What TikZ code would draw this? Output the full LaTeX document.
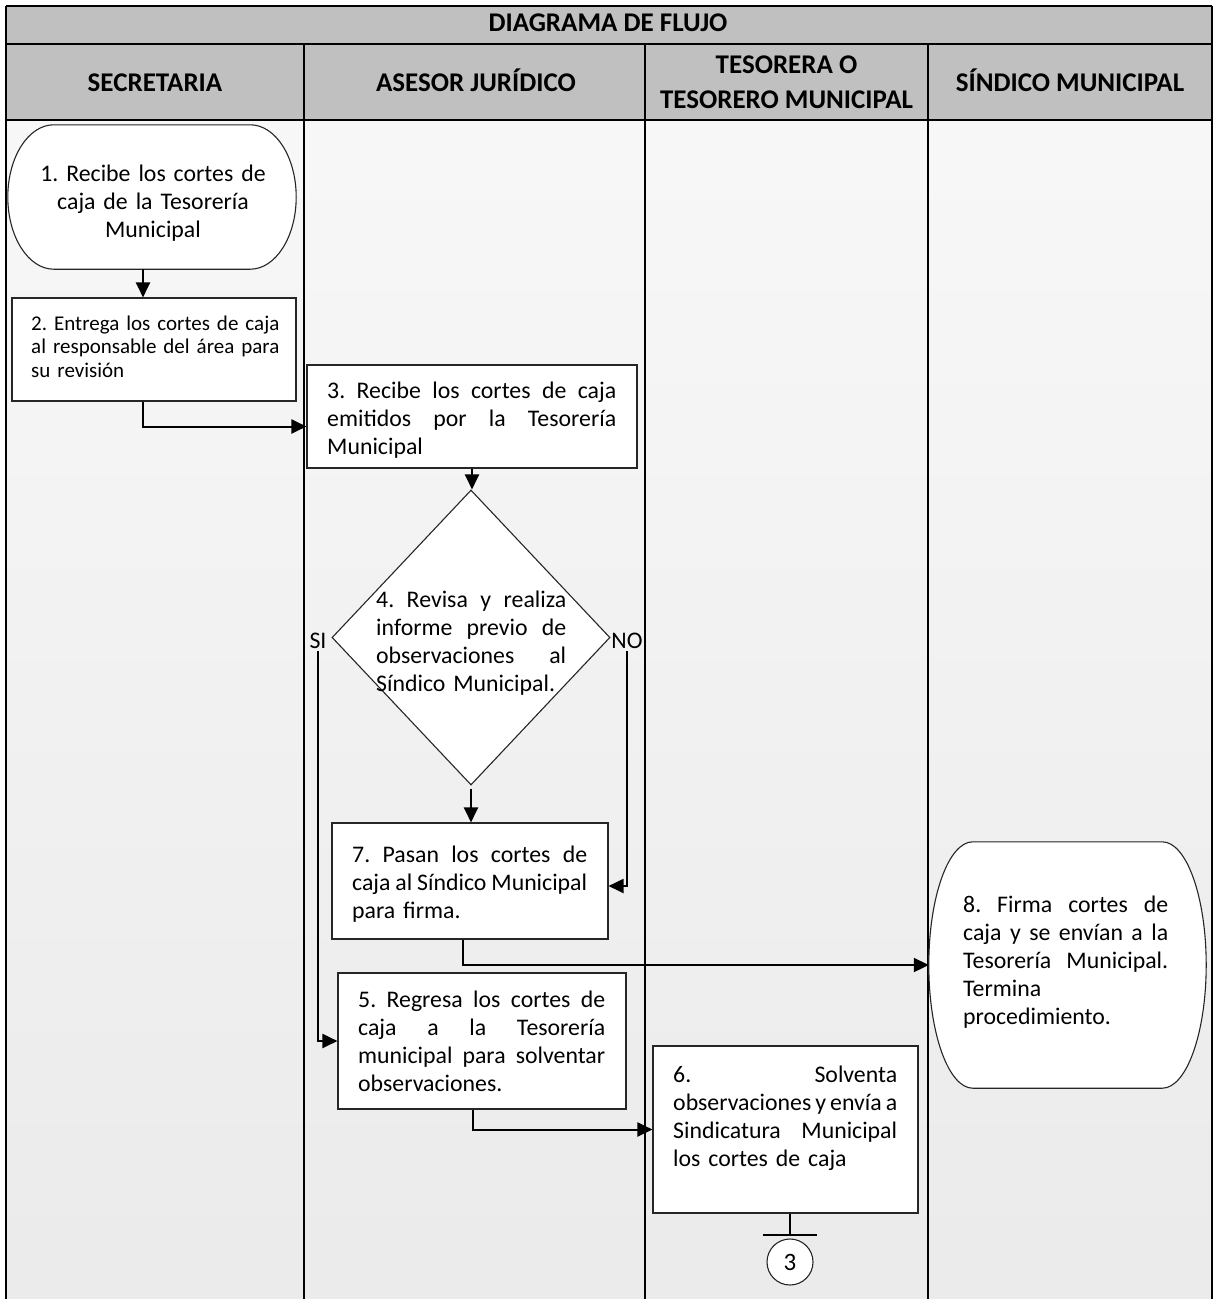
\documentclass[tikz,border=0pt]{standalone}
\usepackage{fontspec}
\setmainfont{Carlito}
\usetikzlibrary{shapes.geometric,arrows.meta,calc}
\definecolor{headgray}{HTML}{C0C0C0}
\frenchspacing
% one justified line of a paragraph: the word spaces share the free room
\newcommand\jl[1]{\leavevmode\hbox to \hsize{\spaceskip=0.226em plus 1fil minus 0.1em\relax #1}}
% outline of a terminal box around an (invisible) node; #2 = radius of the curved ends
\newcommand\termoutline[2]{%
  \draw[boxline,fill=white] ($(#1.north west)+(#2,0)$) -- ($(#1.north east)+(-#2,0)$)
    .. controls ($(#1.north east)+({-0.4477*#2},0)$) and ($(#1.east)!0.5523!(#1.north east)$) .. (#1.east)
    .. controls ($(#1.east)!0.5523!(#1.south east)$) and ($(#1.south east)+({-0.4477*#2},0)$) .. ($(#1.south east)+(-#2,0)$)
    -- ($(#1.south west)+(#2,0)$)
    .. controls ($(#1.south west)+({0.4477*#2},0)$) and ($(#1.west)!0.5523!(#1.south west)$) .. (#1.west)
    .. controls ($(#1.west)!0.5523!(#1.north west)$) and ($(#1.north west)+({0.4477*#2},0)$) .. ($(#1.north west)+(#2,0)$)
    -- cycle;}
\begin{document}
\begin{tikzpicture}[x=1pt,y=-1pt,
  lane/.style={line width=2.2pt,black},
  boxline/.style={line width=1.1pt,black!85},
  stepbox/.style={rectangle,draw=black!85,line width=1.1pt,fill=white,inner sep=0pt},
  ghost/.style={rectangle,inner sep=0pt},
  head/.style={inner sep=0pt,font=\bfseries\fontsize{27}{32}\selectfont},
  txt/.style={inner sep=0pt,font=\fontsize{23.8}{28}\selectfont,align=left},
  lbl/.style={inner sep=0pt,font=\fontsize{23.8}{28}\selectfont},
  arr/.style={line width=2pt,-{Triangle[length=15pt,width=14pt]}},
  conn/.style={line width=2pt}]
\useasboundingbox (0,0) rectangle (1214,1299);

% lane body and header band
\shade[top color=black!3,middle color=black!12,bottom color=black!8] (6,120) rectangle (1212,1299);
\fill[headgray] (6,6) rectangle (1212,120);

% table rules
\draw[lane] (6,6) -- (1212,6);
\draw[lane] (6,44) -- (1212,44);
\draw[lane] (6,120) -- (1212,120);
\draw[lane] (6,6) -- (6,1299);
\draw[lane] (1212,6) -- (1212,1299);
\draw[lane] (304,44) -- (304,1299);
\draw[lane] (645,44) -- (645,1299);
\draw[lane] (928,44) -- (928,1299);

% headings
\node[head,anchor=base] (title) at (608,31.5) {DIAGRAMA DE FLUJO};
\node[head,anchor=base] (h1) at (155,91) {SECRETARIA};
\node[head,anchor=base] (h2) at (476,91) {ASESOR JURÍDICO};
\node[head,anchor=base] (h3a) at (786.5,73) {TESORERA O};
\node[head,anchor=base] (h3b) at (786.5,108) {TESORERO MUNICIPAL};
\node[head,anchor=base] (h4) at (1070,91) {SÍNDICO MUNICIPAL};

% step 1 (terminal)
\node[ghost,minimum width=288pt,minimum height=144pt] (t1) at (152,197) {};
\termoutline{t1}{46}
\node[txt,text width=260pt,align=center,anchor=base] (t1t) at (153,181)
  {1. Recibe los cortes de\\caja de la Tesorería\\Municipal};

% step 2
\node[stepbox,minimum width=284pt,minimum height=103pt] (b2) at (154,349.5) {};
\node[txt,text width=265pt,anchor=base west,font=\fontsize{21}{23.5}\selectfont] (b2t) at (31,330)
  {2. Entrega los cortes de caja\\al responsable del área para\\su revisión};

% step 3
\node[stepbox,minimum width=330pt,minimum height=103pt] (b3) at (472,416.5) {};
\node[txt,text width=289pt,anchor=base west] (b3t) at (327,398)
  {\jl{3. Recibe los cortes de caja}\\\jl{emitidos por la Tesorería}\\Municipal};

% step 4 (decision)
\node[diamond,draw=black!85,line width=1.1pt,fill=white,inner sep=0pt,
      minimum width=278pt,minimum height=295pt] (d4) at (471,637.5) {};
\node[txt,text width=190pt,anchor=base west] (d4t) at (376,607)
  {\jl{4. Revisa y realiza}\\\jl{informe previo de}\\\jl{observaciones al}\\Síndico Municipal.};
\node[lbl,anchor=base] (si) at (318,648) {SI};
\node[lbl,anchor=base] (no) at (627,648) {NO};

% step 7
\node[stepbox,minimum width=276pt,minimum height=116pt] (b7) at (470,881) {};
\node[txt,text width=235pt,anchor=base west] (b7t) at (352,862)
  {\jl{7. Pasan los cortes de}\\\jl{caja al Síndico Municipal}\\para firma.};

% step 5
\node[stepbox,minimum width=288pt,minimum height=136pt] (b5) at (482,1041) {};
\node[txt,text width=247pt,anchor=base west] (b5t) at (358,1007)
  {\jl{5. Regresa los cortes de}\\\jl{caja a la Tesorería}\\\jl{municipal para solventar}\\observaciones.};

% step 6
\node[stepbox,minimum width=265pt,minimum height=167pt] (b6) at (785.5,1129.5) {};
\node[txt,text width=224pt,anchor=base west] (b6t) at (673,1082)
  {\jl{6. Solventa}\\\jl{observaciones y envía a}\\\jl{Sindicatura Municipal}\\los cortes de caja};

% step 8 (terminal)
\node[ghost,minimum width=277pt,minimum height=246pt] (t8) at (1067.5,965) {};
\termoutline{t8}{44}
\node[txt,text width=205pt,anchor=base west] (t8t) at (963,912)
  {\jl{8. Firma cortes de}\\\jl{caja y se envían a la}\\\jl{Tesorería Municipal.}\\Termina\\procedimiento.};

% off-page connector
\node[circle,draw=black!85,line width=1.1pt,fill=white,inner sep=0pt,minimum size=46pt,
      font=\fontsize{25}{30}\selectfont] (c3) at (790,1262) {3};
\coordinate (bar) at (790,1235);

% connectors
\draw[arr] ([xshift=-9pt]t1.south) coordinate (a1s) -- (a1s |- b2.north);
\draw[arr] ([xshift=-11pt]b2.south) |- ([yshift=-10pt]b3.west);
\draw[arr] (b3.south) -- (b3.south |- d4.north);
\draw[arr] ([yshift=-3pt]d4.south) -- (d4.south |- b7.north);
\draw[arr] ([yshift=-3pt]si.south) |- (b5.west);
\draw[arr] ([yshift=-3pt]no.south) |- ([yshift=-5pt]b7.east);
\draw[arr] ([xshift=-7pt]b7.south) |- (t8.west);
\draw[arr] ([xshift=-9pt]b5.south) |- (b6.west);
\draw[conn] (b6.south -| bar) -- (bar);
\draw[conn] ([xshift=-27pt]bar) -- ([xshift=27pt]bar);
\end{tikzpicture}
\end{document}
